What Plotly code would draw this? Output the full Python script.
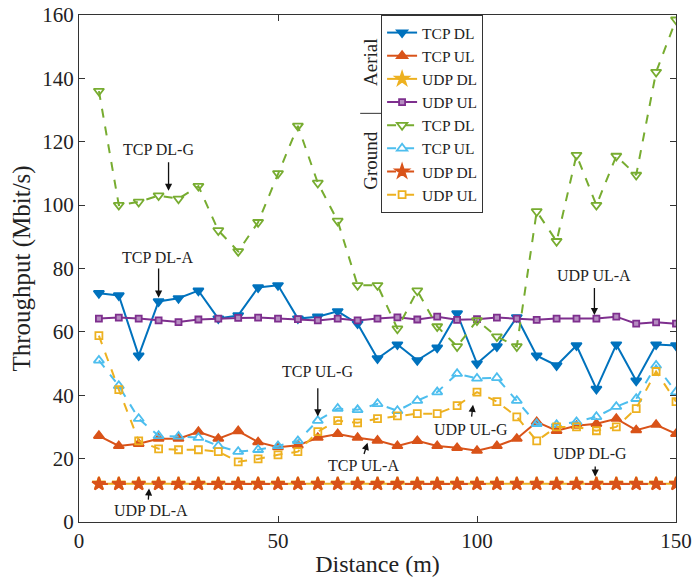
import plotly.graph_objects as go

distance = [5, 10, 15, 20, 25, 30, 35, 40, 45, 50, 55, 60, 65, 70, 75,
            80, 85, 90, 95, 100, 105, 110, 115, 120, 125, 130, 135, 140, 145, 150]

# Aerial
tcp_dl_a = [72.2, 71.5, 52.5, 69.6, 70.6, 73.0, 64.2, 65.2, 74.0, 74.7, 64.2, 64.8, 66.5, 62.6, 51.6,
            56.0, 51.0, 55.0, 65.8, 50.0, 55.4, 64.6, 52.5, 49.4, 55.7, 42.0, 56.0, 44.6, 56.0, 55.7]
tcp_ul_a = [27.2, 24.0, 24.7, 26.3, 26.3, 28.5, 26.3, 28.7, 25.2, 23.6, 24.2, 26.6, 27.8, 26.6, 25.7,
            24.0, 25.6, 24.0, 23.4, 22.5, 24.0, 26.3, 31.6, 28.8, 30.4, 31.0, 32.6, 29.0, 30.7, 27.8]
udp_dl_a = [12.1, 12.1, 12.1, 12.1, 12.1, 12.1, 12.1, 12.1, 12.1, 12.1, 12.1, 12.1, 12.1, 12.1, 12.1,
            12.1, 12.1, 12.1, 12.1, 12.1, 12.1, 12.1, 12.1, 12.1, 12.1, 12.1, 12.1, 12.1, 12.1, 12.1]
udp_ul_a = [64.2, 64.5, 64.2, 63.6, 63.1, 63.9, 64.2, 64.4, 64.5, 64.2, 64.0, 63.6, 64.2, 63.6, 64.2,
            64.6, 63.9, 64.8, 63.8, 64.0, 64.5, 64.2, 63.8, 64.2, 64.2, 64.2, 64.8, 62.6, 63.0, 62.6]

# Ground
tcp_dl_g = [136.0, 100.0, 101.0, 103.0, 102.0, 106.0, 92.0, 85.4, 94.6, 110.0, 125.0, 107.0, 95.0, 74.7, 74.7,
            61.0, 73.0, 61.7, 55.4, 63.6, 58.5, 55.4, 98.0, 88.6, 115.8, 100.0, 115.5, 109.5, 142.0, 158.5]
tcp_ul_g = [51.0, 43.0, 32.6, 27.2, 27.0, 26.6, 24.0, 22.2, 22.8, 24.0, 25.6, 32.0, 35.8, 35.4, 37.3,
            35.1, 38.3, 41.0, 46.8, 45.3, 45.5, 38.3, 31.0, 30.7, 31.6, 33.2, 36.4, 38.9, 49.4, 41.0]
udp_dl_g = [12.0, 12.0, 12.0, 12.0, 12.0, 12.0, 12.0, 12.0, 12.0, 12.0, 12.0, 12.0, 12.0, 12.0, 12.0,
            12.0, 12.0, 12.0, 12.0, 12.0, 12.0, 12.0, 12.0, 12.0, 12.0, 12.0, 12.0, 12.0, 12.0, 12.0]
udp_ul_g = [58.8, 41.8, 25.6, 23.1, 22.8, 22.8, 22.2, 19.0, 19.9, 21.2, 22.2, 28.5, 32.0, 31.3, 32.6,
            33.5, 34.2, 34.2, 36.7, 41.0, 38.0, 33.2, 25.6, 30.0, 30.0, 28.8, 30.0, 35.8, 47.5, 38.0]

series_names = ["TCP DL", "TCP UL", "UDP DL", "UDP UL"]
x_ticks = [0, 50, 100, 150]
y_ticks = [0, 20, 40, 60, 80, 100, 120, 140, 160]

# annotation labels: (text, text_x, text_y, tail_x, tail_y, head_x, head_y)
labels = [
    ("TCP DL-G", 20.0, 117.5, 22.5, 114.0, 22.5, 104.5),
    ("TCP DL-A", 19.7, 83.5, 20.0, 80.5, 20.0, 70.8),
    ("UDP UL-A", 129.5, 77.7, 129.5, 74.3, 129.5, 65.3),
    ("TCP UL-G", 60.0, 47.5, 60.0, 42.7, 60.0, 33.3),
    ("UDP UL-G", 98.5, 29.2, 98.6, 32.8, 99.0, 37.0),
    ("TCP UL-A", 71.5, 17.7, 71.5, 21.0, 72.5, 25.0),
    ("UDP DL-G", 128.5, 21.5, 129.7, 18.0, 129.7, 14.3),
    ("UDP DL-A", 18.0, 3.5, 17.4, 6.6, 17.6, 10.6),
]

BLUE = "#0072BD"
ORANGE = "#D95319"
YELLOW = "#EDB120"
PURPLE = "#7E2F8E"
GREEN = "#77AC30"
CYAN = "#4DBEEE"

fig = go.Figure()

def add(y, name, color, symbol, dash, group, msize=9, fill=None):
    fig.add_trace(go.Scatter(
        x=distance, y=y, name=name, mode="lines+markers",
        legendgroup=group,
        line=dict(color=color, width=2, dash=dash),
        marker=dict(symbol=symbol, size=msize, color=fill if fill else color,
                    line=dict(color=color, width=1.8)),
    ))

add(tcp_dl_a, series_names[0], BLUE, "triangle-down", "solid", "A", 9)
add(tcp_ul_a, series_names[1], ORANGE, "triangle-up", "solid", "A", 9)
add(udp_dl_a, series_names[2], YELLOW, "star", "solid", "A", 10)
add(udp_ul_a, series_names[3], PURPLE, "square", "solid", "A", 6, fill="#B58CC0")
add(tcp_dl_g, series_names[0], GREEN, "triangle-down-open", "dash", "G", 9)
add(tcp_ul_g, series_names[1], CYAN, "triangle-up-open", "dash", "G", 9)
add(udp_dl_g, series_names[2], ORANGE, "star", "dash", "G", 10)
add(udp_ul_g, series_names[3], YELLOW, "square-open", "dash", "G", 7)

FONT = "Liberation Serif"
annotations = []
for text, tx, ty, ax, ay, hx, hy in labels:
    annotations.append(dict(x=tx, y=ty, xref="x", yref="y", text=text, showarrow=False,
                            font=dict(family=FONT, size=16, color="#222")))
    annotations.append(dict(x=hx, y=hy, ax=ax, ay=ay, xref="x", yref="y", axref="x", ayref="y",
                            text="", showarrow=True, arrowhead=2, arrowsize=1.1,
                            arrowwidth=1.3, arrowcolor="#111"))

annotations.append(dict(x=0.487, y=0.907, xref="paper", yref="paper", text="Aerial",
                        xanchor="center", yanchor="middle",
                        textangle=-90, showarrow=False, font=dict(family=FONT, size=19, color="#222")))
annotations.append(dict(x=0.487, y=0.714, xref="paper", yref="paper", text="Ground",
                        xanchor="center", yanchor="middle",
                        textangle=-90, showarrow=False, font=dict(family=FONT, size=19, color="#222")))

axis_common = dict(showgrid=False, zeroline=False, showline=True, linecolor="#333", linewidth=1,
                   mirror="ticks", ticks="inside", ticklen=6, tickcolor="#333", automargin=False,
                   ticklabeloverflow="allow",
                   tickfont=dict(family=FONT, size=21, color="#222"))

fig.update_layout(
    width=693, height=582,
    margin=dict(l=79, r=17, t=15, b=60, autoexpand=False),
    plot_bgcolor="white", paper_bgcolor="white",
    xaxis=dict(range=[0, 150], tickvals=x_ticks,
               title=dict(text="Distance (m)", font=dict(family=FONT, size=24, color="#222"), standoff=2),
               **axis_common),
    yaxis=dict(range=[0, 160], tickvals=y_ticks,
               title=dict(text="Throughput (Mbit/s)", font=dict(family=FONT, size=25, color="#222"), standoff=4),
               **axis_common),
    legend=dict(x=0.506, y=1.0, xanchor="left", yanchor="top",
                bordercolor="#333", borderwidth=1, bgcolor="white",
                font=dict(family=FONT, size=15.5, color="#222"),
                tracegroupgap=0, itemwidth=30),
    annotations=annotations,
    shapes=[dict(type="line", xref="paper", yref="paper", x0=0.471, x1=0.676, y0=0.806, y1=0.806,
                 line=dict(color="#333", width=1))],
    showlegend=True,
)

fig.write_html("out.html", config={"displayModeBar": False},
               post_script="document.body.style.margin='0px';document.body.style.overflow='hidden';")
